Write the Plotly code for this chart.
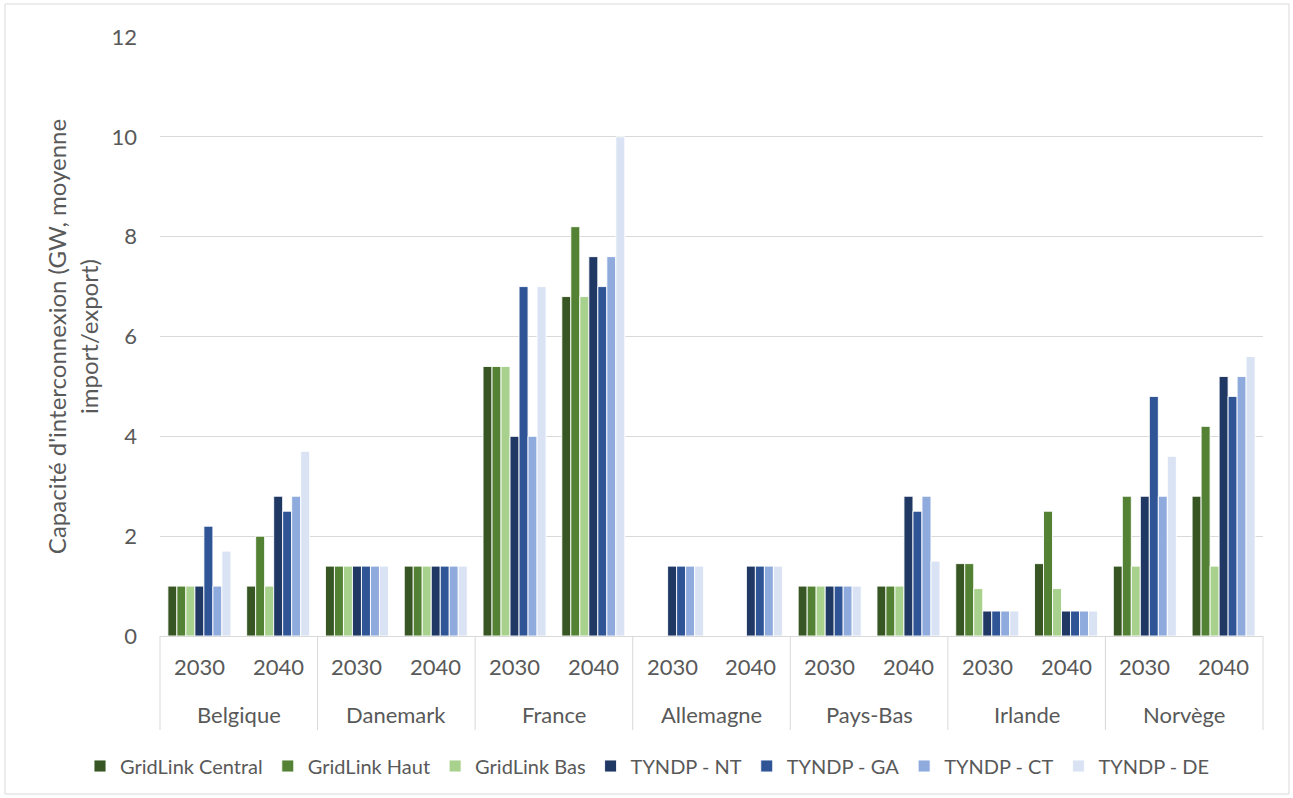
import plotly.graph_objects as go

# Interconnection capacity by country and horizon year (GW, average import/export)
countries = ["Belgique", "Danemark", "France", "Allemagne", "Pays-Bas", "Irlande", "Norvège"]
years = ["2030", "2040"]

series_names = ["GridLink Central", "GridLink Haut", "GridLink Bas",
                "TYNDP - NT", "TYNDP - GA", "TYNDP - CT", "TYNDP - DE"]
series_colors = ["#375623", "#548235", "#A9D18E",
                 "#203864", "#2F5597", "#8FAADC", "#DAE3F3"]

# values ordered: Belgique 2030, Belgique 2040, Danemark 2030, ... Norvège 2040
gridlink_central = [1.0, 1.0, 1.4, 1.4, 5.4, 6.8, None, None, 1.0, 1.0, 1.45, 1.45, 1.4, 2.8]
gridlink_haut    = [1.0, 2.0, 1.4, 1.4, 5.4, 8.2, None, None, 1.0, 1.0, 1.45, 2.5, 2.8, 4.2]
gridlink_bas     = [1.0, 1.0, 1.4, 1.4, 5.4, 6.8, None, None, 1.0, 1.0, 0.95, 0.95, 1.4, 1.4]
tyndp_nt         = [1.0, 2.8, 1.4, 1.4, 4.0, 7.6, 1.4, 1.4, 1.0, 2.8, 0.5, 0.5, 2.8, 5.2]
tyndp_ga         = [2.2, 2.5, 1.4, 1.4, 7.0, 7.0, 1.4, 1.4, 1.0, 2.5, 0.5, 0.5, 4.8, 4.8]
tyndp_ct         = [1.0, 2.8, 1.4, 1.4, 4.0, 7.6, 1.4, 1.4, 1.0, 2.8, 0.5, 0.5, 2.8, 5.2]
tyndp_de         = [1.7, 3.7, 1.4, 1.4, 7.0, 10.0, 1.4, 1.4, 1.0, 1.5, 0.5, 0.5, 3.6, 5.6]

series_values = [gridlink_central, gridlink_haut, gridlink_bas,
                 tyndp_nt, tyndp_ga, tyndp_ct, tyndp_de]

y_ticks = [0, 2, 4, 6, 8, 10, 12]

outer = [c for c in countries for _ in years]
inner = [y for _ in countries for y in years]

fig = go.Figure()
for name, color, vals in zip(series_names, series_colors, series_values):
    fig.add_trace(go.Bar(
        x=[outer, inner], y=vals, name=name,
        marker=dict(color=color, line=dict(color="rgba(255,255,255,0.9)", width=1)),
    ))

FONT = "Lato, 'Open Sans', sans-serif"
TXT = "#595959"
GRID = "#d9d9d9"
W, H = 1293, 798
ML, MR, MT, MB = 160, 30, 37, 162

pw, ph = W - ML - MR, H - MT - MB
def px_x(v):
    return (v - ML) / pw
def px_y(v):
    return 1 - (v - MT) / ph

fig.update_layout(
    width=W, height=H,
    margin=dict(l=ML, r=MR, t=MT, b=MB, autoexpand=False),
    paper_bgcolor="white", plot_bgcolor="white",
    barmode="group", bargap=0.2, bargroupgap=0.0,
    font=dict(family=FONT, size=20, color=TXT),
    legend=dict(orientation="h", x=px_x(80), xanchor="left", y=px_y(766), yanchor="middle",
                font=dict(size=20, color=TXT), itemwidth=30, tracegroupgap=0),
    xaxis=dict(
        type="multicategory", showgrid=False, showline=True, linecolor=GRID,
        linewidth=1, ticks="", showticklabels=False, showdividers=False,
    ),
    yaxis=dict(
        range=[0, 12], tickvals=y_ticks, showgrid=True, gridcolor=GRID,
        gridwidth=1, zeroline=False, showline=False, ticks="",
        ticklabelstandoff=22,
        tickfont=dict(size=22, color=TXT),
        title=dict(text="Capacité d'interconnexion (GW, moyenne<br>import/export)",
                   font=dict(size=24, color=TXT), standoff=6),
    ),
)

# two-level category labels with dividers between countries
n_cat = len(outer)
for i, (c, yr) in enumerate(zip(outer, inner)):
    fig.add_annotation(x=(i + 0.5) / n_cat, y=px_y(666), xref="paper", yref="paper",
                       text=yr, showarrow=False, font=dict(size=22, color=TXT),
                       xanchor="center", yanchor="middle")
for k, c in enumerate(countries):
    fig.add_annotation(x=(2 * k + 1) / n_cat, y=px_y(714), xref="paper", yref="paper",
                       text=c, showarrow=False, font=dict(size=22, color=TXT),
                       xanchor="center", yanchor="middle")
for k in range(len(countries) + 1):
    xv = 2 * k / n_cat
    fig.add_shape(type="line", xref="paper", yref="paper", x0=xv, x1=xv,
                  y0=0, y1=px_y(730), line=dict(color=GRID, width=1))

# thin frame around the whole chart
fig.add_shape(type="rect", xref="paper", yref="paper",
              x0=px_x(5), x1=px_x(W - 4), y0=px_y(4), y1=px_y(H - 4),
              line=dict(color=GRID, width=1), fillcolor="rgba(0,0,0,0)", layer="below")

fig.write_html("out.html")
